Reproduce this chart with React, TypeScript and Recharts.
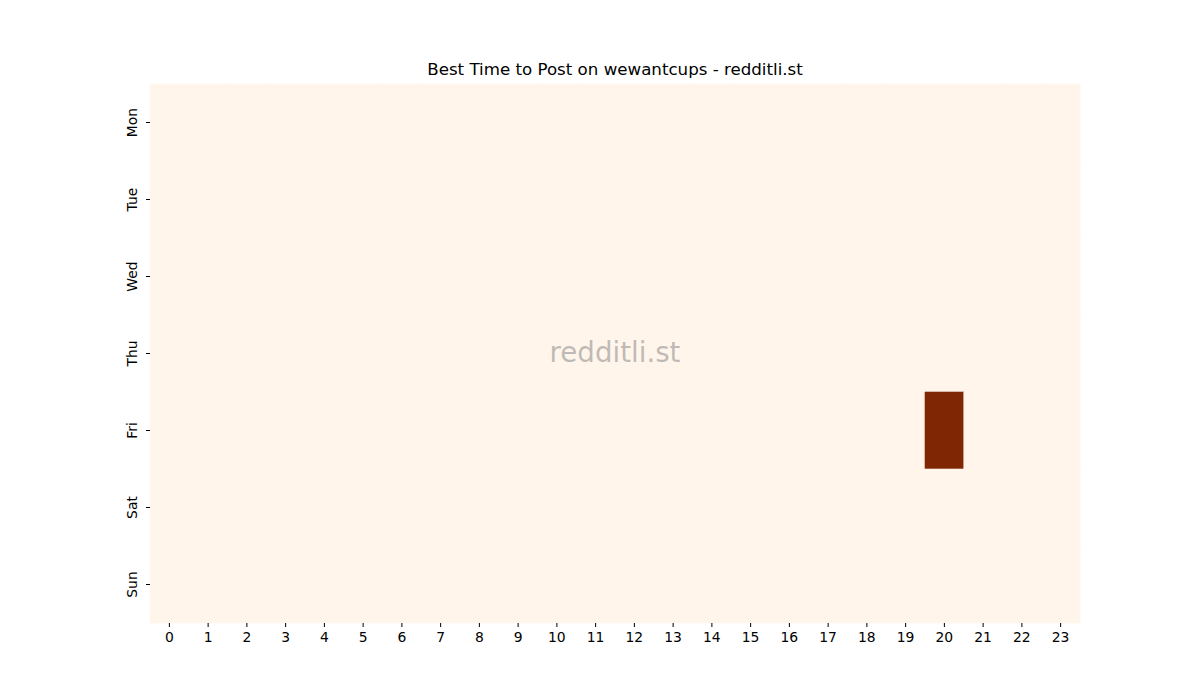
import React from "react";
import { BarChart, Bar, XAxis, YAxis, Cell } from "recharts";

const days = ["Mon", "Tue", "Wed", "Thu", "Fri", "Sat", "Sun"];
const hours = [0, 1, 2, 3, 4, 5, 6, 7, 8, 9, 10, 11, 12, 13, 14, 15, 16, 17, 18, 19, 20, 21, 22, 23];

// post counts per hour, one row per day
const mon = [0, 0, 0, 0, 0, 0, 0, 0, 0, 0, 0, 0, 0, 0, 0, 0, 0, 0, 0, 0, 0, 0, 0, 0];
const tue = [0, 0, 0, 0, 0, 0, 0, 0, 0, 0, 0, 0, 0, 0, 0, 0, 0, 0, 0, 0, 0, 0, 0, 0];
const wed = [0, 0, 0, 0, 0, 0, 0, 0, 0, 0, 0, 0, 0, 0, 0, 0, 0, 0, 0, 0, 0, 0, 0, 0];
const thu = [0, 0, 0, 0, 0, 0, 0, 0, 0, 0, 0, 0, 0, 0, 0, 0, 0, 0, 0, 0, 0, 0, 0, 0];
const fri = [0, 0, 0, 0, 0, 0, 0, 0, 0, 0, 0, 0, 0, 0, 0, 0, 0, 0, 0, 0, 1, 0, 0, 0];
const sat = [0, 0, 0, 0, 0, 0, 0, 0, 0, 0, 0, 0, 0, 0, 0, 0, 0, 0, 0, 0, 0, 0, 0, 0];
const sun = [0, 0, 0, 0, 0, 0, 0, 0, 0, 0, 0, 0, 0, 0, 0, 0, 0, 0, 0, 0, 0, 0, 0, 0];

const rows = [mon, tue, wed, thu, fri, sat, sun];
const maxVal = Math.max(...rows.flat(), 1);

// Oranges colormap endpoints
const lerp = (a: number, b: number, t: number) => Math.round(a + (b - a) * t);
const colorFor = (v: number) => {
  const t = v / maxVal;
  return `rgb(${lerp(255, 127, t)},${lerp(245, 39, t)},${lerp(235, 4, t)})`;
};

// each day is one stacked segment of height 1
const data = hours.map((h, hi) => {
  const row: Record<string, number | string> = { hour: String(h) };
  days.forEach((d, di) => {
    row[d] = 1;
    row[d + "_v"] = rows[di][hi];
  });
  return row;
});

const font = "'DejaVu Sans', sans-serif";

const DayTick = (props: any) => {
  const { x, y, payload } = props;
  const tx = x - 7;
  return (
    <text
      x={tx}
      y={y}
      transform={`rotate(-90, ${tx}, ${y})`}
      textAnchor="middle"
      fontSize={13.9}
      fontFamily={font}
      fill="#000"
    >
      {days[Math.floor(payload.value)]}
    </text>
  );
};

export default function App() {
  return (
    <div style={{ position: "absolute", left: 0, top: 0, width: 1200, height: 700, background: "#fff" }}>
      <div
        style={{
          position: "absolute",
          left: 0,
          width: 1200,
          top: 60,
          textAlign: "center",
          fontFamily: font,
          fontSize: 16.67,
          color: "#000",
          paddingLeft: 30,
          boxSizing: "border-box",
        }}
      >
        Best Time to Post on wewantcups - redditli.st
      </div>
      <BarChart
        width={1200}
        height={700}
        data={data}
        margin={{ top: 84, right: 120, left: 120, bottom: 47 }}
        barCategoryGap={0}
        barGap={0}
      >
        <XAxis
          dataKey="hour"
          axisLine={false}
          tickSize={4}
          tickLine={{ stroke: "#000" }}
          tick={{ fontSize: 13.9, fill: "#000", fontFamily: font, dy: 3 }}
          interval={0}
          height={30}
        />
        <YAxis
          type="number"
          domain={[0, 7]}
          ticks={[0.5, 1.5, 2.5, 3.5, 4.5, 5.5, 6.5]}
          reversed
          axisLine={false}
          tickSize={4}
          tickLine={{ stroke: "#000" }}
          tick={<DayTick />}
          width={30}
        />
        {days.map((d) => (
          <Bar key={d} dataKey={d} stackId="a" isAnimationActive={false}>
            {data.map((row, i) => (
              <Cell
                key={i}
                fill={colorFor(row[d + "_v"] as number)}
                stroke={colorFor(row[d + "_v"] as number)}
                strokeWidth={0.6}
              />
            ))}
          </Bar>
        ))}
      </BarChart>
      <div
        style={{
          position: "absolute",
          left: 150,
          width: 930,
          top: 336,
          textAlign: "center",
          fontFamily: font,
          fontSize: 27.7,
          color: "rgba(128,128,128,0.5)",
          pointerEvents: "none",
        }}
      >
        redditli.st
      </div>
    </div>
  );
}
